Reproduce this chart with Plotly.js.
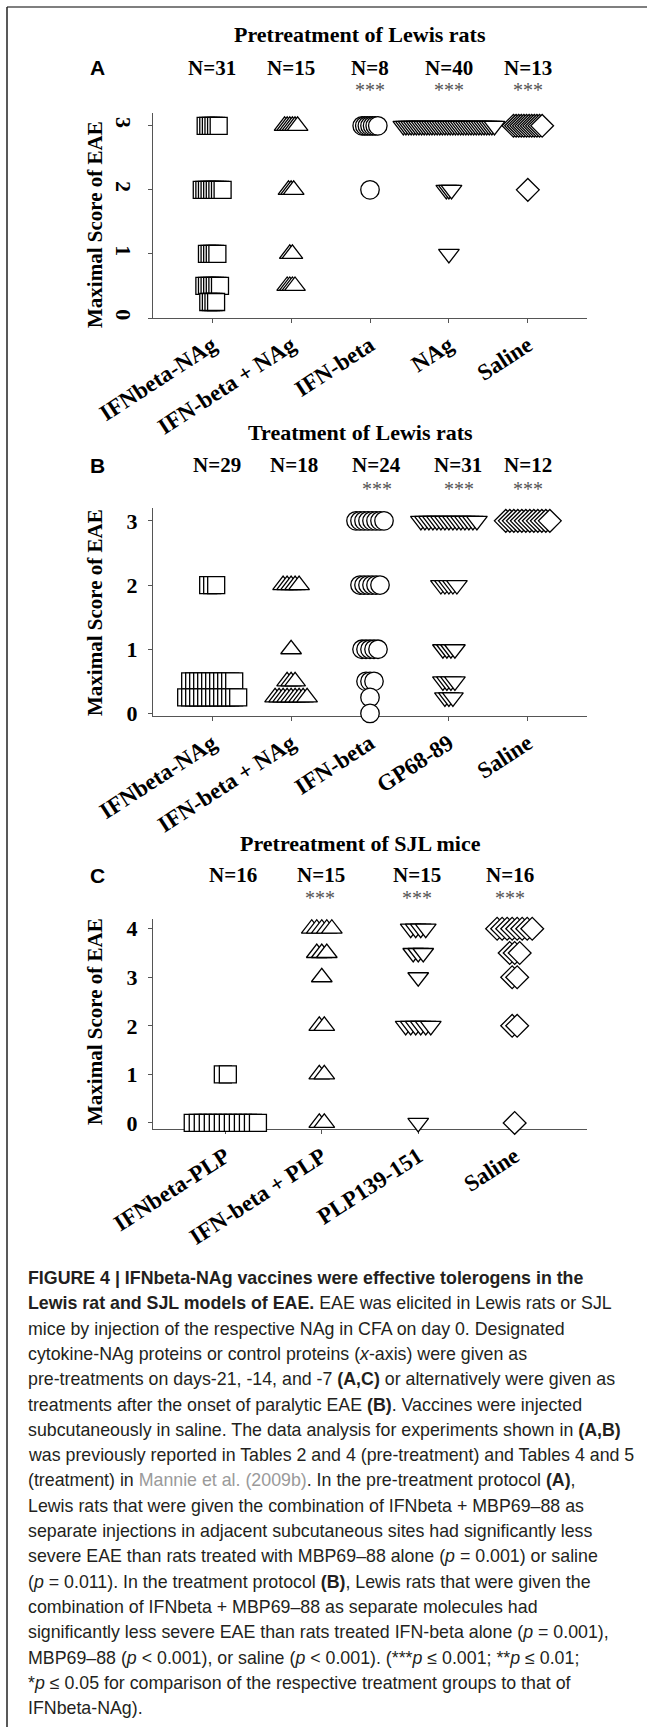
<!DOCTYPE html>
<html><head><meta charset="utf-8">
<script src="https://cdn.plot.ly/plotly-3.0.1.min.js"></script>
<style>html,body{margin:0;padding:0;background:#fff;}#chart{width:656px;height:1727px;}</style>
</head><body><div id="chart"></div>
<script>
// ---------- Panel A: Pretreatment of Lewis rats ----------
const catsA = ["IFNbeta-NAg", "IFN-beta + NAg", "IFN-beta", "NAg", "Saline"];
const nA = ["N=31", "N=15", "N=8", "N=40", "N=13"];
const sigA = ["", "", "***", "***", "***"];
const scoresA = [[3, 2, 1, 0.5, 0.25], [3, 2, 1, 0.5], [3, 2], [3, 2, 1], [3, 2]];
const countsA = [[6, 9, 5, 7, 4], [6, 3, 2, 4], [7, 1], [36, 3, 1], [12, 1]];

// ---------- Panel B: Treatment of Lewis rats ----------
const catsB = ["IFNbeta-NAg", "IFN-beta + NAg", "IFN-beta", "GP68-89", "Saline"];
const nB = ["N=29", "N=18", "N=24", "N=31", "N=12"];
const sigB = ["", "", "***", "***", "***"];
const scoresB = [[2, 0.5, 0.25], [2, 1, 0.5, 0.25], [3, 2, 1, 0.5, 0.25, 0], [3, 2, 1, 0.5, 0.25], [3]];
const countsB = [[3, 12, 14], [5, 1, 3, 9], [8, 6, 5, 3, 1, 1], [15, 5, 4, 4, 3], [12]];

// ---------- Panel C: Pretreatment of SJL mice ----------
const catsC = ["IFNbeta-PLP", "IFN-beta + PLP", "PLP139-151", "Saline"];
const nC = ["N=16", "N=15", "N=15", "N=16"];
const sigC = ["", "***", "***", "***"];
const scoresC = [[1, 0], [4, 3.5, 3, 2, 1, 0], [4, 3.5, 3, 2, 0], [4, 3.5, 3, 2, 0]];
const countsC = [[2, 14], [5, 3, 1, 2, 2, 2], [4, 3, 1, 6, 1], [8, 3, 2, 2, 1]];

const titleA = "Pretreatment of Lewis rats";
const titleB = "Treatment of Lewis rats";
const titleC = "Pretreatment of SJL mice";
const yTitle = "Maximal Score of EAE";

const captionLines = [
  "<b>FIGURE 4 | IFNbeta-NAg vaccines were effective tolerogens in the</b>",
  "<b>Lewis rat and SJL models of EAE.</b> EAE was elicited in Lewis rats or SJL",
  "mice by injection of the respective NAg in CFA on day 0. Designated",
  "cytokine-NAg proteins or control proteins (<i>x</i>-axis) were given as",
  "pre-treatments on days-21, -14, and -7 <b>(A,C)</b> or alternatively were given as",
  "treatments after the onset of paralytic EAE <b>(B)</b>. Vaccines were injected",
  "subcutaneously in saline. The data analysis for experiments shown in <b>(A,B)</b>",
  "was previously reported in Tables 2 and 4 (pre-treatment) and Tables 4 and 5",
  "(treatment) in <span style=\"color:#9a9a9a\">Mannie et al. (2009b)</span>. In the pre-treatment protocol <b>(A)</b>,",
  "Lewis rats that were given the combination of IFNbeta + MBP69–88 as",
  "separate injections in adjacent subcutaneous sites had significantly less",
  "severe EAE than rats treated with MBP69–88 alone (<i>p</i> = 0.001) or saline",
  "(<i>p</i> = 0.011). In the treatment protocol <b>(B)</b>, Lewis rats that were given the",
  "combination of IFNbeta + MBP69–88 as separate molecules had",
  "significantly less severe EAE than rats treated IFN-beta alone (<i>p</i> = 0.001),",
  "MBP69–88 (<i>p</i> &lt; 0.001), or saline (<i>p</i> &lt; 0.001). (***<i>p</i> ≤ 0.001; **<i>p</i> ≤ 0.01;",
  "*<i>p</i> ≤ 0.05 for comparison of the respective treatment groups to that of",
  "IFNbeta-NAg)."
];

// ---------- styling / layout constants ----------
const W = 656, H = 1727;
const SERIF = "Liberation Serif, Times New Roman, serif";
const SANS = "Liberation Sans, Arial, sans-serif";
const symAB = ["square", "triangle-up", "circle", "triangle-down", "diamond"];
const symC = ["square", "triangle-up", "triangle-down", "diamond"];
const symSize = {"square": 17, "triangle-up": 18, "triangle-down": 18, "circle": 18.5, "diamond": 17.5};

function px2y(p) { return 1 - p / H; }
function px2x(p) { return p / W; }

const panels = [
  {cats: catsA, n: nA, sig: sigA, scores: scoresA, counts: countsA, sym: symAB, off: 0.033,
   xa: "x", ya: "y", title: titleA, letter: "A", titleY: 35, nY: 68, sigY: 90, yTitleY: 225,
   dom: [318, 113], yrange: [0, 3.2], yticks: [0, 1, 2, 3], ytickangle: 90,
   nShift: [0, 0, 0, 0, 0], sigShift: [0, 0, 0, 0, 0]},
  {cats: catsB, n: nB, sig: sigB, scores: scoresB, counts: countsB, sym: symAB, off: 0.0507,
   xa: "x2", ya: "y2", title: titleB, letter: "B", titleY: 433, nY: 465, sigY: 489, yTitleY: 613,
   dom: [716, 508], yrange: [-0.04, 3.2], yticks: [0, 1, 2, 3], ytickangle: 0,
   nShift: [5, 3, 6, 9, 0], sigShift: [0, 0, 7, 10, 0]},
  {cats: catsC, n: nC, sig: sigC, scores: scoresC, counts: countsC, sym: symC, off: 0.052,
   xa: "x3", ya: "y3", title: titleC, letter: "C", titleY: 843, nY: 875, sigY: 898, yTitleY: 1022,
   dom: [1129, 919], yrange: [-0.125, 4.2], yticks: [0, 1, 2, 3, 4], ytickangle: 0,
   nShift: [8, -1, -1, -5], sigShift: [0, -2, -1, -5]}
];

const traces = [];
const layout = {
  width: W, height: H, margin: {l: 0, r: 0, t: 0, b: 0},
  paper_bgcolor: "#fff", plot_bgcolor: "rgba(0,0,0,0)", showlegend: false,
  annotations: [], shapes: []
};

panels.forEach((p, pi) => {
  p.cats.forEach((c, ci) => {
    const xs = [], ys = [];
    p.scores[ci].forEach((s, k) => {
      const cnt = p.counts[ci][k];
      for (let j = 0; j < cnt; j++) {
        xs.push(ci + (j - (cnt - 1) / 2) * p.off);
        ys.push(s);
      }
    });
    const sym = p.sym[ci];
    traces.push({
      type: "scatter", mode: "markers", x: xs, y: ys, xaxis: p.xa, yaxis: p.ya,
      cliponaxis: false, hoverinfo: "skip", name: c,
      marker: {symbol: sym, size: symSize[sym], color: "#fff", line: {color: "#000", width: 1.3}}
    });
  });
  const sfx = pi === 0 ? "" : String(pi + 1);
  const ncat = p.cats.length;
  layout["xaxis" + sfx] = {
    domain: [px2x(153), px2x(587)], range: [-0.75, ncat - 0.25], anchor: "y" + sfx,
    tickmode: "array", tickvals: p.cats.map((_, i) => i), ticktext: p.cats,
    tickangle: -33, tickfont: {family: SERIF, size: 23, weight: "bold", color: "#000"},
    showline: true, linecolor: "#555", linewidth: 1, ticks: "outside", ticklen: 4,
    tickcolor: "#555", showgrid: false, zeroline: false, layer: "below traces", fixedrange: true
  };
  layout["yaxis" + sfx] = {
    domain: [px2y(p.dom[0]), px2y(p.dom[1])], range: p.yrange, anchor: "x" + sfx,
    tickmode: "array", tickvals: p.yticks, ticktext: p.yticks.map(String),
    tickangle: p.ytickangle, tickfont: {family: SERIF, size: 22, weight: "bold", color: "#000"},
    showline: true, linecolor: "#555", linewidth: 1, ticks: "outside", ticklen: 4,
    tickcolor: "#555", showgrid: false, zeroline: false, layer: "below traces",
    ticklabelstandoff: 6, fixedrange: true
  };
  layout.annotations.push({xref: "paper", yref: "paper", x: px2x(360), y: px2y(p.titleY),
    text: "<b>" + p.title + "</b>", showarrow: false, xanchor: "center", yanchor: "middle",
    font: {family: SERIF, size: 22, color: "#000"}});
  layout.annotations.push({xref: "paper", yref: "paper", x: px2x(97), y: px2y(p.nY),
    text: "<b>" + p.letter + "</b>", showarrow: false, xanchor: "center", yanchor: "middle",
    font: {family: SANS, size: 21, color: "#000"}});
  layout.annotations.push({xref: "paper", yref: "paper", x: px2x(95), y: px2y(p.yTitleY),
    text: "<b>" + yTitle + "</b>", textangle: -90, showarrow: false, xanchor: "center", yanchor: "middle",
    font: {family: SERIF, size: 21, color: "#000"}});
  p.cats.forEach((c, ci) => {
    layout.annotations.push({xref: p.xa, yref: "paper", x: ci, xshift: p.nShift[ci], y: px2y(p.nY),
      text: "<b>" + p.n[ci] + "</b>", showarrow: false, xanchor: "center", yanchor: "middle",
      font: {family: SERIF, size: 21, color: "#000"}});
    if (p.sig[ci]) {
      layout.annotations.push({xref: p.xa, yref: "paper", x: ci, xshift: p.sigShift[ci], y: px2y(p.sigY),
        text: p.sig[ci], showarrow: false, xanchor: "center", yanchor: "middle",
        font: {family: SERIF, size: 20, color: "#555"}});
    }
  });
});

// caption, one annotation per printed line
const capTop = 1278, capStep = 25.3;
captionLines.forEach((t, i) => {
  layout.annotations.push({xref: "paper", yref: "paper", x: px2x(26), y: px2y(capTop + i * capStep),
    text: t, showarrow: false, xanchor: "left", yanchor: "middle", align: "left",
    font: {family: SANS, size: 17.8, color: "#231f20"}});
});

// frame
layout.shapes.push({type: "line", xref: "paper", yref: "paper", x0: px2x(7), x1: px2x(647), y0: px2y(7), y1: px2y(7), line: {color: "#555", width: 1.5}});
layout.shapes.push({type: "line", xref: "paper", yref: "paper", x0: px2x(7), x1: px2x(7), y0: px2y(7), y1: 0, line: {color: "#222", width: 1.5}});

Plotly.newPlot("chart", traces, layout, {staticPlot: true, displayModeBar: false});
</script></body></html>
